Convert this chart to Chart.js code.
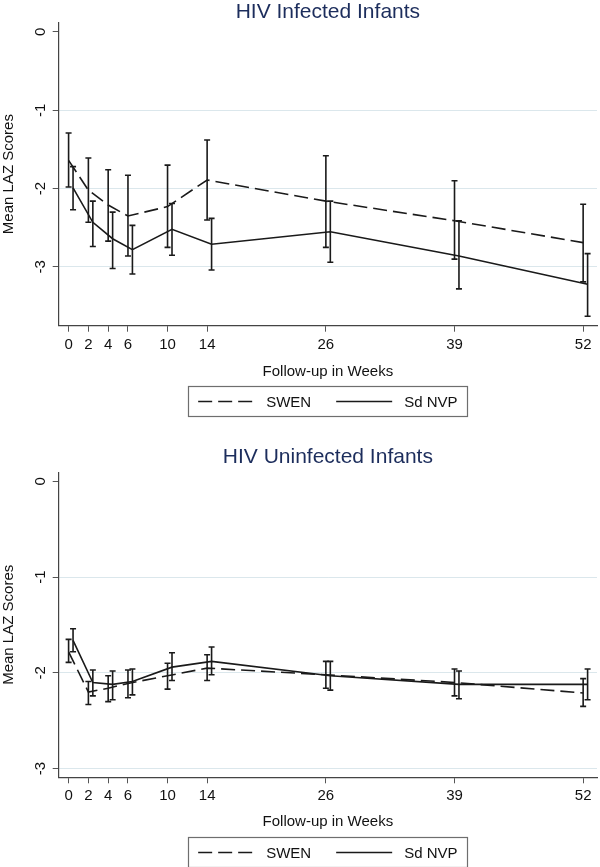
<!DOCTYPE html>
<html>
<head>
<meta charset="utf-8">
<script src="https://cdn.jsdelivr.net/npm/chart.js@4.4.1/dist/chart.umd.min.js"></script>
<style>
html, body { margin: 0; padding: 0; background: #ffffff; }
#wrap { position: relative; width: 600px; height: 867px; overflow: hidden; background: #fff; }
canvas { position: absolute; left: 0; }
</style>
</head>
<body>
<div id="wrap">
  <canvas id="c1" width="600" height="432" style="top:0px"></canvas>
  <canvas id="c2" width="600" height="435" style="top:432px"></canvas>
</div>
<script>
// ---------------- DATA ----------------
const weeks = [0, 2, 4, 6, 10, 14, 26, 39, 52];
const weekTicks = [0, 2, 4, 6, 10, 14, 26, 39, 52];
const yTicks = [0, -1, -2, -3];
const seriesNames = ['SWEN', 'Sd NVP'];
const panelTitles = ['HIV Infected Infants', 'HIV Uninfected Infants'];
const xTitle = 'Follow-up in Weeks';
const yTitle = 'Mean LAZ Scores';

// HIV infected infants
const infSwenMean = [-1.64, -2.02, -2.21, -2.35, -2.23, -1.89, -2.16, -2.41, -2.69];
const infSwenLow  = [-1.98, -2.43, -2.67, -2.86, -2.75, -2.40, -2.75, -2.90, -3.19];
const infSwenHigh = [-1.29, -1.61, -1.76, -1.83, -1.70, -1.38, -1.58, -1.90, -2.20];
const infNvpMean  = [-1.99, -2.43, -2.64, -2.78, -2.52, -2.71, -2.55, -2.86, -3.22];
const infNvpLow   = [-2.27, -2.74, -3.02, -3.09, -2.85, -3.04, -2.94, -3.28, -3.63];
const infNvpHigh  = [-1.72, -2.16, -2.30, -2.47, -2.19, -2.38, -2.16, -2.41, -2.83];

// HIV uninfected infants
const uninfSwenMean = [-1.78, -2.20, -2.16, -2.11, -2.03, -1.95, -2.02, -2.10, -2.21];
const uninfSwenLow  = [-1.89, -2.33, -2.30, -2.26, -2.17, -2.08, -2.16, -2.24, -2.35];
const uninfSwenHigh = [-1.65, -2.09, -2.03, -1.97, -1.90, -1.81, -1.88, -1.96, -2.06];
const uninfNvpMean  = [-1.66, -2.10, -2.12, -2.09, -1.94, -1.88, -2.03, -2.12, -2.12];
const uninfNvpLow   = [-1.78, -2.24, -2.28, -2.23, -2.08, -2.02, -2.18, -2.27, -2.28];
const uninfNvpHigh  = [-1.54, -1.97, -1.98, -1.96, -1.79, -1.73, -1.88, -1.98, -1.96];

// ---------------- STYLE ----------------
const FONT = '"Liberation Sans", Arial, Helvetica, sans-serif';
const DODGE = 0.45; // horizontal offset of the Sd NVP series (weeks)
const INK = '#1a1a1a';

Chart.defaults.font.family = FONT;
Chart.defaults.color = '#111';

const errorBars = {
  id: 'errorBars',
  afterDatasetsDraw(chart) {
    const { ctx } = chart;
    const xs = chart.scales.x, ys = chart.scales.y;
    ctx.save();
    ctx.strokeStyle = INK;
    ctx.lineWidth = 1.6;
    ctx.setLineDash([]);
    chart.data.datasets.forEach(ds => {
      if (!ds.errLow) return;
      ds.data.forEach((p, i) => {
        const x = xs.getPixelForValue(p.x);
        const y1 = ys.getPixelForValue(ds.errLow[i]);
        const y2 = ys.getPixelForValue(ds.errHigh[i]);
        ctx.beginPath();
        ctx.moveTo(x, y1); ctx.lineTo(x, y2);
        ctx.moveTo(x - 3, y1); ctx.lineTo(x + 3, y1);
        ctx.moveTo(x - 3, y2); ctx.lineTo(x + 3, y2);
        ctx.stroke();
      });
    });
    ctx.restore();
  }
};

const boxLegend = {
  id: 'boxLegend',
  afterDraw(chart, args, opts) {
    const { ctx, chartArea } = chart;
    const dss = chart.data.datasets;
    ctx.save();
    ctx.font = '15px ' + FONT;
    const lineLen = 56, gap = 12, itemGap = 25, pad = 10, h = 30;
    const widths = dss.map(d => ctx.measureText(d.label).width);
    let total = 0;
    widths.forEach((w, i) => { total += lineLen + gap + w + (i < widths.length - 1 ? itemGap : 0); });
    const boxW = total + 2 * pad;
    const cx = (chartArea.left + chartArea.right) / 2;
    const left = cx - boxW / 2;
    const top = chartArea.bottom + opts.offset;
    ctx.strokeStyle = '#6e6e6e';
    ctx.lineWidth = 1.2;
    ctx.setLineDash([]);
    ctx.strokeRect(Math.round(left) + 0.5, Math.round(top) + 0.5, Math.round(boxW), h);
    let x = left + pad;
    const ym = top + h / 2 + 0.5;
    dss.forEach((d, i) => {
      ctx.beginPath();
      ctx.strokeStyle = INK;
      ctx.lineWidth = 1.6;
      ctx.setLineDash(d.borderDash || []);
      ctx.moveTo(x, ym); ctx.lineTo(x + lineLen, ym);
      ctx.stroke();
      ctx.setLineDash([]);
      x += lineLen + gap;
      ctx.fillStyle = '#111';
      ctx.textBaseline = 'middle';
      ctx.textAlign = 'left';
      ctx.fillText(d.label, x, ym + 1);
      x += widths[i] + itemGap;
    });
    ctx.restore();
  }
};

function makeChart(canvasId, cfg) {
  const datasets = [
    {
      label: seriesNames[0],
      data: weeks.map((w, i) => ({ x: w, y: cfg.swenMean[i] })),
      errLow: cfg.swenLow, errHigh: cfg.swenHigh,
      borderColor: INK, borderWidth: 1.6, borderDash: [14, 6],
      pointRadius: 0, fill: false, tension: 0
    },
    {
      label: seriesNames[1],
      data: weeks.map((w, i) => ({ x: w + DODGE, y: cfg.nvpMean[i] })),
      errLow: cfg.nvpLow, errHigh: cfg.nvpHigh,
      borderColor: INK, borderWidth: 1.6,
      pointRadius: 0, fill: false, tension: 0
    }
  ];
  return new Chart(document.getElementById(canvasId), {
    type: 'line',
    data: { datasets },
    plugins: [errorBars, boxLegend],
    options: {
      responsive: false,
      animation: false,
      layout: { padding: { left: 0, right: 3, top: 0, bottom: cfg.padBottom } },
      plugins: {
        legend: { display: false },
        tooltip: { enabled: false },
        title: {
          display: true, text: cfg.title, fullSize: false,
          color: '#1c2d5c',
          font: { size: 21, weight: 'normal', lineHeight: 1 },
          padding: { top: cfg.titleTop, bottom: cfg.titleBottom }
        },
        boxLegend: { offset: cfg.legendOffset }
      },
      scales: {
        x: {
          type: 'linear', min: -1, max: 53.4,
          afterBuildTicks: s => { s.ticks = weekTicks.map(v => ({ value: v })); },
          afterFit: s => { s.height = cfg.xHeight; },
          grid: { drawOnChartArea: false, drawTicks: true, tickLength: 6, tickColor: '#555', tickWidth: 1 },
          border: { display: true, color: '#444', width: 1.2 },
          ticks: { font: { size: 15 }, color: '#111', padding: 4, maxRotation: 0, autoSkip: false },
          title: { display: true, text: xTitle, font: { size: 15 }, color: '#111', padding: 0 }
        },
        y: {
          type: 'linear', min: cfg.yMin, max: cfg.yMax,
          afterBuildTicks: s => { s.ticks = yTicks.map(v => ({ value: v })); },
          afterFit: s => { s.width = 58.7; },
          grid: {
            drawTicks: true, tickLength: 6, tickColor: '#555', lineWidth: 1,
            color: c => (c.tick && c.tick.value === 0) ? 'rgba(0,0,0,0)' : '#dbe7ec'
          },
          border: { display: true, color: '#444', width: 1.2 },
          ticks: {
            font: { size: 15 }, color: '#111', padding: 5,
            minRotation: 90, maxRotation: 90, crossAlign: 'center', autoSkip: false,
            callback: v => String(v)
          },
          title: { display: true, text: yTitle, font: { size: 15 }, color: '#111', padding: 0 }
        }
      }
    }
  });
}

makeChart('c1', {
  title: panelTitles[0],
  swenMean: infSwenMean, swenLow: infSwenLow, swenHigh: infSwenHigh,
  nvpMean: infNvpMean, nvpLow: infNvpLow, nvpHigh: infNvpHigh,
  yMin: -3.75, yMax: 0.12,
  titleTop: 1.5, titleBottom: 0,
  xHeight: 55.3, padBottom: 51, legendOffset: 60.3
});

makeChart('c2', {
  title: panelTitles[1],
  swenMean: uninfSwenMean, swenLow: uninfSwenLow, swenHigh: uninfSwenHigh,
  nvpMean: uninfNvpMean, nvpLow: uninfNvpLow, nvpHigh: uninfNvpHigh,
  yMin: -3.09, yMax: 0.094,
  titleTop: 14.5, titleBottom: 4.8,
  xHeight: 53.7, padBottom: 36, legendOffset: 59.7
});
</script>
</body>
</html>
